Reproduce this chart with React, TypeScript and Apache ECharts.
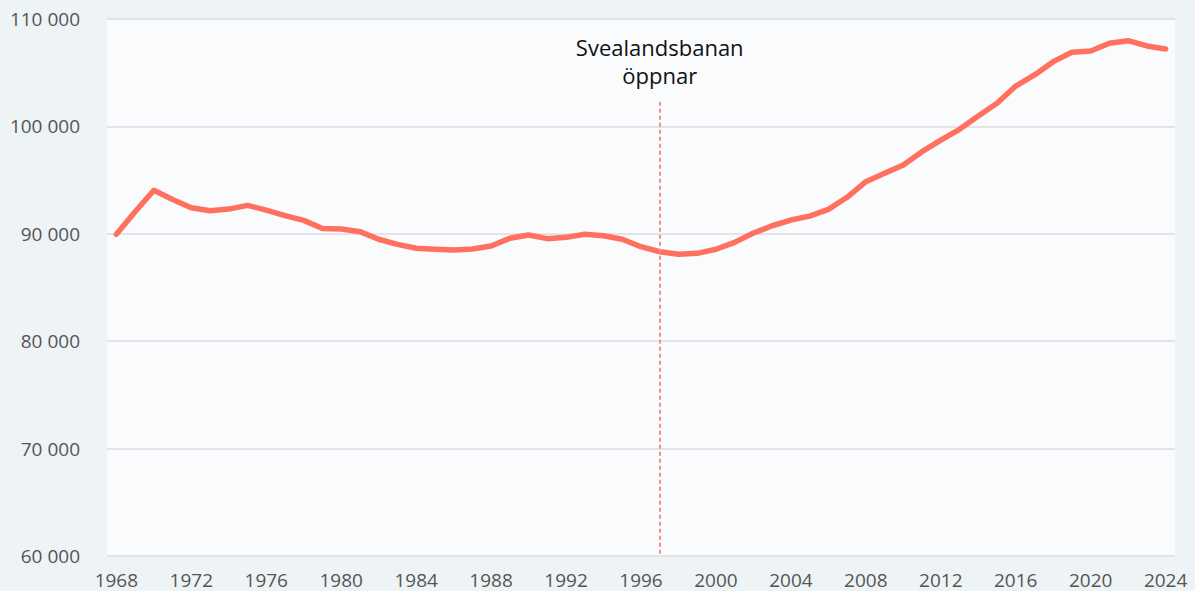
import React, { useEffect, useRef } from "react";
import * as echarts from "echarts";

const years: string[] = [];
for (let y = 1968; y <= 2024; y++) years.push(String(y));

const population: number[] = [
  89950, 92050, 94050, 93200, 92430, 92150, 92300, 92650, 92200, 91700,
  91250, 90500, 90440, 90200, 89490, 89020, 88650, 88560, 88490, 88580,
  88860, 89580, 89890, 89550, 89670, 89950, 89820, 89490, 88800, 88330,
  88090, 88180, 88560, 89200, 90070, 90750, 91280, 91650, 92280, 93400,
  94850, 95630, 96410, 97650, 98730, 99730, 100970, 102150, 103760, 104790,
  106030, 106900, 107020, 107740, 107980, 107490, 107210,
];

const eventYear = "1997";
const eventLabel = "Svealandsbanan\nöppnar";
const eventTop = 102300;
const yMin = 60000;
const yMax = 110000;
const yStep = 10000;

const fmt = (v: number) => String(v).replace(/\B(?=(\d{3})+(?!\d))/g, " ");

export default function App() {
  const ref = useRef<HTMLDivElement>(null);
  useEffect(() => {
    if (!ref.current) return;
    const chart = echarts.init(ref.current, undefined, { renderer: "svg" });
    const font = "'Open Sans', sans-serif";
    chart.setOption({
      animation: false,
      backgroundColor: "#eef3f6",
      grid: {
        left: 107,
        right: 20,
        top: 19,
        bottom: 35,
        show: true,
        backgroundColor: "#fafbfd",
        borderWidth: 0,
      },
      xAxis: {
        type: "category",
        data: years,
        boundaryGap: true,
        axisLine: { show: false },
        axisTick: { show: false },
        axisLabel: {
          interval: 3,
          color: "#555",
          fontFamily: font,
          fontSize: 19,
          margin: 14,
        },
        splitLine: { show: false },
      },
      yAxis: {
        type: "value",
        min: yMin,
        max: yMax,
        interval: yStep,
        axisLine: { show: false },
        axisTick: { show: false },
        axisLabel: {
          color: "#555",
          fontFamily: font,
          fontSize: 19,
          margin: 27,
          formatter: (v: number) => fmt(v),
        },
        splitLine: { lineStyle: { color: "#dcdde0", width: 1.5 } },
      },
      series: [
        {
          type: "line",
          data: population,
          symbol: "none",
          lineStyle: { color: "#ff705f", width: 5.5, cap: "round", join: "round" },
          markLine: {
            silent: true,
            symbol: "none",
            emphasis: { disabled: true },
            lineStyle: { color: "#f29090", type: [4, 3], width: 2, opacity: 1 },
            label: {
              show: true,
              position: "start",
              formatter: eventLabel,
              color: "#111",
              fontFamily: font,
              fontSize: 22,
              lineHeight: 28,
              align: "center",
              distance: 13,
            },
            data: [
              [
                { coord: [eventYear, eventTop] },
                { coord: [eventYear, yMin] },
              ],
            ],
          },
        },
      ],
    });
    return () => chart.dispose();
  }, []);
  return (
    <div
      ref={ref}
      style={{ position: "absolute", left: 0, top: 0, width: 1195, height: 591 }}
    />
  );
}
